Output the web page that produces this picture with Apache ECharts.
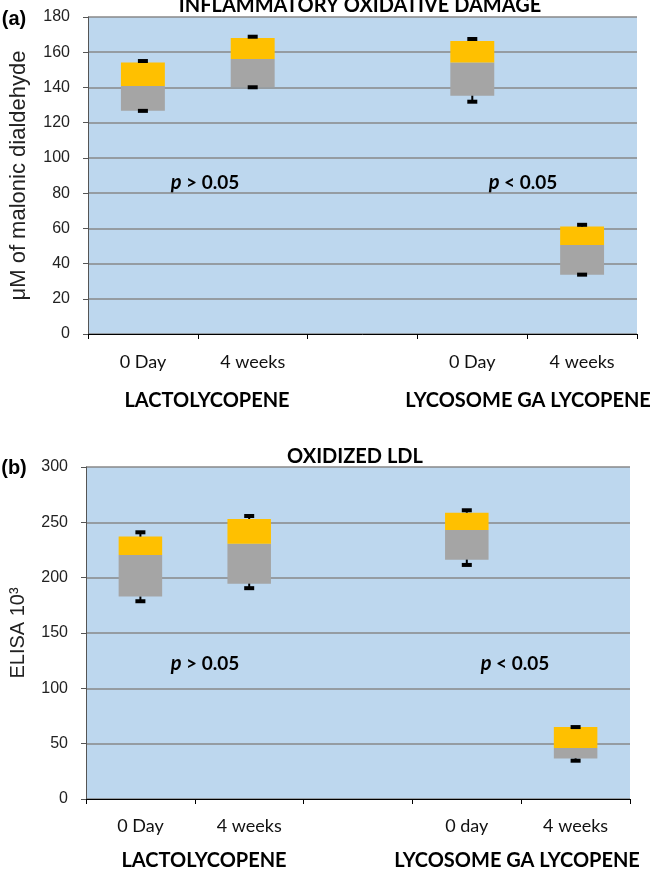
<!DOCTYPE html>
<html><head><meta charset="utf-8">
<script src="https://cdn.jsdelivr.net/npm/echarts@6/dist/echarts.min.js"></script>
<style>html,body{margin:0;padding:0;background:#fff}#c{width:651px;height:869px}</style>
</head><body><div id="c"></div>
<script>
// Panel (a): Inflammatory oxidative damage (µM of malonic dialdehyde)
var catsA = ['0 Day', '4 weeks', '', '0 Day', '4 weeks'];
var boxLowA = [126.8, 140.1, null, 135.3, 33.7];
var boxMidA = [140.8, 156.2, null, 154.1, 50.5];
var boxHighA = [154.1, 168.1, null, 166.4, 61.0];
var capLowA = [126.7, 140.1, null, 131.9, 33.7];
var capHighA = [155.0, 168.8, null, 167.5, 62.0];
var ticksA = {min: 0, max: 180, interval: 20};

// Panel (b): Oxidized LDL (ELISA 10^3)
var catsB = ['0 Day', '4 weeks', '', '0 day', '4 weeks'];
var boxLowB = [182.9, 194.6, null, 216.3, 36.7];
var boxMidB = [220.5, 230.7, null, 243.1, 46.0];
var boxHighB = [237.1, 253.0, null, 258.7, 65.0];
var capLowB = [178.7, 190.5, null, 211.5, 34.6];
var capHighB = [241.0, 255.7, null, 260.9, 65.0];
var ticksB = {min: 0, max: 300, interval: 50};

var titleA = 'INFLAMMATORY OXIDATIVE DAMAGE';
var titleB = 'OXIDIZED LDL';
var yNameA = 'μM of malonic dialdehyde';
var yNameB = 'ELISA 10³';
var groups = ['LACTOLYCOPENE', 'LYCOSOME GA LYCOPENE'];
var pTexts = [['>', '0.05'], ['<', '0.05']];

var HUM = 'Lato, "Open Sans", sans-serif';
var SANS = '"Liberation Sans", Arial, sans-serif';

function diff(a, b) { return a.map(function (v, i) { return (v == null || b[i] == null) ? '-' : +(v - b[i]).toFixed(2); }); }
function orDash(a) { return a.map(function (v) { return v == null ? '-' : v; }); }

function whiskerData(lo, hi, bl, bh) {
  var out = [];
  for (var i = 0; i < lo.length; i++) if (lo[i] != null) out.push([i, lo[i], hi[i], bl[i], bh[i]]);
  return out;
}

function renderWhisker(params, api) {
  var x = api.value(0);
  var lo = api.coord([x, api.value(1)]);
  var hi = api.coord([x, api.value(2)]);
  var bl = api.coord([x, api.value(3)]);
  var bh = api.coord([x, api.value(4)]);
  var cw = 10, ch = 4;
  var children = [];
  if (hi[1] < bh[1]) children.push({type: 'line', shape: {x1: hi[0], y1: bh[1], x2: hi[0], y2: hi[1]}, style: {stroke: '#000', lineWidth: 2}});
  if (lo[1] > bl[1]) children.push({type: 'line', shape: {x1: lo[0], y1: bl[1], x2: lo[0], y2: lo[1]}, style: {stroke: '#000', lineWidth: 2}});
  children.push({type: 'rect', shape: {x: hi[0] - cw / 2, y: hi[1] - ch / 2, width: cw, height: ch}, style: {fill: '#000'}});
  children.push({type: 'rect', shape: {x: lo[0] - cw / 2, y: lo[1] - ch / 2, width: cw, height: ch}, style: {fill: '#000'}});
  return {type: 'group', children: children};
}

function barSeries(idx, lo, mid, hi, cl, ch) {
  var stack = 'st' + idx;
  return [
    {type: 'bar', xAxisIndex: idx, yAxisIndex: idx, stack: stack, data: orDash(lo), barWidth: '40%', itemStyle: {color: 'transparent'}, silent: true},
    {type: 'bar', xAxisIndex: idx, yAxisIndex: idx, stack: stack, data: diff(mid, lo), barWidth: '40%', itemStyle: {color: '#A5A5A5'}},
    {type: 'bar', xAxisIndex: idx, yAxisIndex: idx, stack: stack, data: diff(hi, mid), barWidth: '40%', itemStyle: {color: '#FFC000'}},
    {type: 'custom', xAxisIndex: idx, yAxisIndex: idx, data: whiskerData(cl, ch, lo, hi), renderItem: renderWhisker, encode: {x: 0, y: [1, 2]}, z: 5}
  ];
}

function xAxis(idx, cats, margin) {
  return {type: 'category', gridIndex: idx, data: cats, boundaryGap: true,
    axisLine: {lineStyle: {color: '#000', width: 1}},
    axisTick: {show: true, alignWithLabel: false, interval: 0, length: 5, lineStyle: {color: '#000'}},
    axisLabel: {interval: 0, color: '#111', fontSize: 18, fontFamily: HUM, margin: margin},
    splitLine: {show: false}};
}
function yAxis(idx, t, name, nameSize) {
  return {type: 'value', gridIndex: idx, min: t.min, max: t.max, interval: t.interval,
    name: name, nameLocation: 'middle', nameRotate: 90, nameGap: 58,
    nameTextStyle: {color: '#222', fontSize: nameSize, fontFamily: SANS},
    axisLine: {show: true, lineStyle: {color: '#555', width: 1}},
    axisTick: {show: true, length: 5, lineStyle: {color: '#555'}},
    axisLabel: {color: '#222', fontSize: 16, fontFamily: SANS, margin: 18},
    splitLine: {lineStyle: {color: '#888', width: 1.5}}};
}

function txt(cx, cy, text, size, family, extra) {
  var st = {x: cx, y: cy, text: text, align: 'center', verticalAlign: 'middle', fontWeight: 'bold', fontSize: size, fontFamily: family, fill: '#000'};
  if (extra) for (var k in extra) st[k] = extra[k];
  return {type: 'text', style: st};
}
function pText(cx, cy, sym) {
  return txt(cx, cy, '{i|p} {b|' + sym[0] + ' ' + sym[1] + '}', 19, HUM, {
    rich: {i: {fontStyle: 'italic', fontWeight: 'bold', fontSize: 20, fontFamily: HUM, fill: '#000'},
           b: {fontWeight: 'bold', fontSize: 19, fontFamily: HUM, fill: '#000'}}});
}

var chart = echarts.init(document.getElementById('c'), null, {renderer: 'canvas'});
chart.setOption({
  animation: false,
  grid: [
    {left: 82, top: 17, width: 555, height: 317, show: true, backgroundColor: '#BDD7EE', borderWidth: 0},
    {left: 81, top: 467, width: 549, height: 332, show: true, backgroundColor: '#BDD7EE', borderWidth: 0}
  ],
  xAxis: [xAxis(0, catsA, 19), xAxis(1, catsB, 18)],
  yAxis: [yAxis(0, ticksA, yNameA, 22), yAxis(1, ticksB, yNameB, 20)],
  series: [].concat(
    barSeries(0, boxLowA, boxMidA, boxHighA, capLowA, capHighA),
    barSeries(1, boxLowB, boxMidB, boxHighB, capLowB, capHighB)
  ),
  graphic: [
    txt(14, 19, '(a)', 20, SANS),
    txt(14, 468, '(b)', 20, SANS),
    txt(360, 6, titleA, 20, HUM),
    txt(355, 457, titleB, 20, HUM),
    txt(207, 401, groups[0], 20, HUM),
    txt(528, 401, groups[1], 20, HUM),
    txt(204, 861, groups[0], 20, HUM),
    txt(517, 861, groups[1], 20, HUM),
    pText(205, 183, pTexts[0]),
    pText(523, 183, pTexts[1]),
    pText(205, 664, pTexts[0]),
    pText(515, 664, pTexts[1])
  ]
});
</script></body></html>
